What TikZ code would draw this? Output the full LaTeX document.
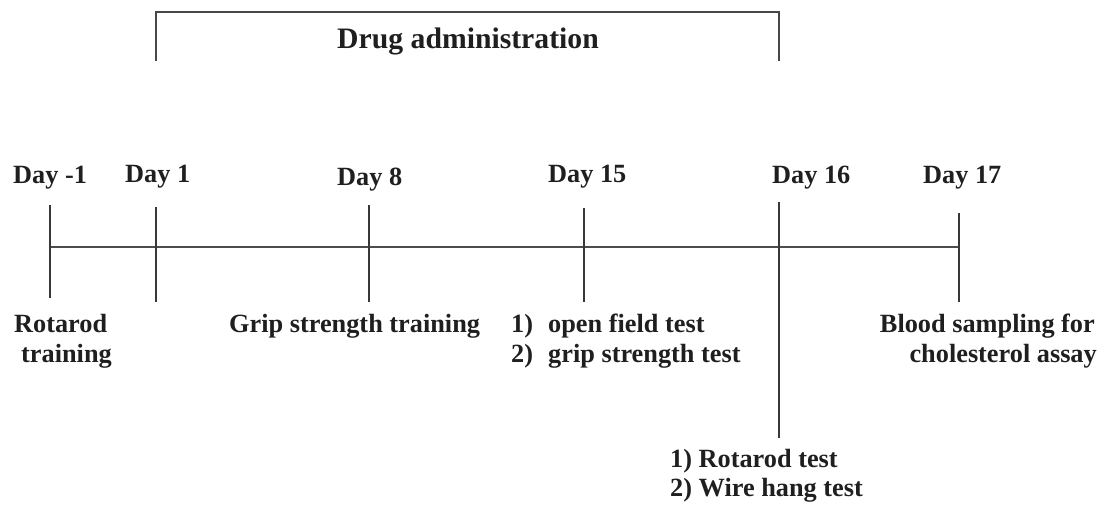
\documentclass[tikz,border=0pt]{standalone}
\usepackage{fontspec}
\setmainfont{Liberation Serif}
\begin{document}
\begin{tikzpicture}[x=1pt,y=-1pt,
  lbl/.style={inner sep=0pt, font=\bfseries\fontsize{26.3}{30}\selectfont, text=black!88},
  title/.style={inner sep=0pt, font=\bfseries\fontsize{29.7}{34}\selectfont, text=black!88},
  tl/.style={line width=1.6pt, draw=black!70},
  tick/.style={line width=1.2pt, draw=black!78},
  brk/.style={line width=1.3pt, draw=black!72}]
\useasboundingbox (0,0) rectangle (1100,507);
% bracket
\coordinate (bl) at (156,61);
\coordinate (bltop) at (156,12);
\coordinate (brtop) at (779,12);
\coordinate (br) at (779,61);
\draw[brk] (bl) -- (bltop) -- (brtop) -- (br);
\node[title, anchor=base] (drug) at (468,48) {Drug administration};
% timeline
\coordinate (t0) at (50,247);
\coordinate (t1) at (959,247);
\draw[tl] (t0) -- (t1);
% ticks
\coordinate (am) at (50,205);  \coordinate (bm) at (50,298);
\coordinate (a1) at (156,207); \coordinate (b1) at (156,302);
\coordinate (a8) at (369,205); \coordinate (b8) at (369,302);
\coordinate (a15) at (584,208); \coordinate (b15) at (584,302);
\coordinate (a16) at (779,202); \coordinate (b16) at (779,438);
\coordinate (a17) at (959,213); \coordinate (b17) at (959,302);
\draw[tick] (am) -- (bm);
\draw[tick] (a1) -- (b1);
\draw[tick] (a8) -- (b8);
\draw[tick] (a15) -- (b15);
\draw[tick] (a16) -- (b16);
\draw[tick] (a17) -- (b17);
% day labels
\node[lbl, anchor=base west] (dm) at (13,183) {Day -1};
\node[lbl, anchor=base west] (d1) at (125,182) {Day 1};
\node[lbl, anchor=base west] (d8) at (337,185) {Day 8};
\node[lbl, anchor=base west] (d15) at (548,182) {Day 15};
\node[lbl, anchor=base west] (d16) at (772,183) {Day 16};
\node[lbl, anchor=base west] (d17) at (923,183) {Day 17};
% bottom labels
\node[lbl, anchor=base west] (rt1) at (14,332) {Rotarod};
\node[lbl, anchor=base west] (rt2) at (21,362) {training};
\node[lbl, anchor=base west] (gst) at (229,332) {Grip strength training};
\node[lbl, anchor=base west] (n1) at (511,332) {1)};
\node[lbl, anchor=base west] (of) at (548,332) {open field test};
\node[lbl, anchor=base west] (n2) at (511,362) {2)};
\node[lbl, anchor=base west] (gt) at (548,362) {grip strength test};
\node[lbl, anchor=base east] (bs1) at (1095,332) {Blood sampling for};
\node[lbl, anchor=base east] (bs2) at (1097,362) {cholesterol assay};
\node[lbl, anchor=base west] (rr) at (670,467) {1) Rotarod test};
\node[lbl, anchor=base west] (wh) at (670,496) {2) Wire hang test};
\end{tikzpicture}
\end{document}
